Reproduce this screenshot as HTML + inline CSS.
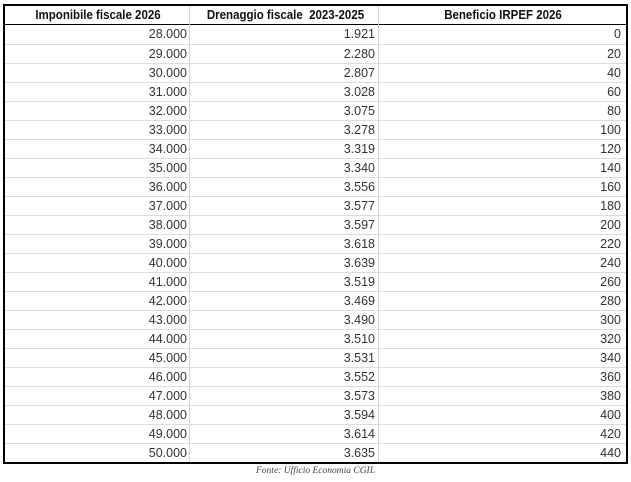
<!DOCTYPE html>
<html><head><meta charset="utf-8"><style>
body{margin:0;width:631px;height:482px;background:#fff;position:relative;overflow:hidden;font-family:"Liberation Sans",sans-serif;}
.t{position:absolute;left:3px;top:4px;width:621px;height:456px;border:2px solid #000;}
.h{position:absolute;top:0;height:18px;line-height:19px;font-weight:bold;font-size:12.5px;text-align:center;transform:scaleX(0.92);color:#111;}
.hl{position:absolute;left:0;right:0;top:18px;height:1px;background:#000;}
.v{position:absolute;top:0;bottom:0;width:1px;background:#d4d4d4;}
.r{position:absolute;left:0;right:0;height:19px;border-top:1px solid #dcdcdc;box-sizing:border-box;font-size:12.5px;color:#333;}
.r span{position:absolute;top:2px;text-align:right;}
.f{position:absolute;top:466px;left:0;width:631px;text-align:center;font-family:"Liberation Serif",serif;font-style:italic;font-size:9.5px;color:#444;}
</style></head><body>
<div class="t">
<div class="h" style="left:0;width:186px">Imponibile fiscale 2026</div>
<div class="h" style="left:186px;width:189px">Drenaggio fiscale&nbsp; 2023-2025</div>
<div class="h" style="left:375px;width:246px">Beneficio IRPEF 2026</div>
<div class="hl"></div>
<div class="v" style="left:184px"></div>
<div class="v" style="left:373px"></div>
<div id="rows"></div>
</div>
<div class="f">Fonte: Ufficio Economia CGIL</div>
<script>
var a=[1921,2280,2807,3028,3075,3278,3319,3340,3556,3577,3597,3618,3639,3519,3469,3490,3510,3531,3552,3573,3594,3614,3635];
var h='';
for(var i=0;i<23;i++){
 var d=String(a[i]);d=d[0]+'.'+d.slice(1);
 h+='<div class="r" style="top:'+(19+i*19)+'px;'+(i==0?'border-top:none':'')+'"><span style="right:439px">'+(28+i)+'.000</span><span style="right:251px">'+d+'</span><span style="right:5px">'+(i*20)+'</span></div>';
}
document.getElementById('rows').innerHTML=h;
</script>
</body></html>
